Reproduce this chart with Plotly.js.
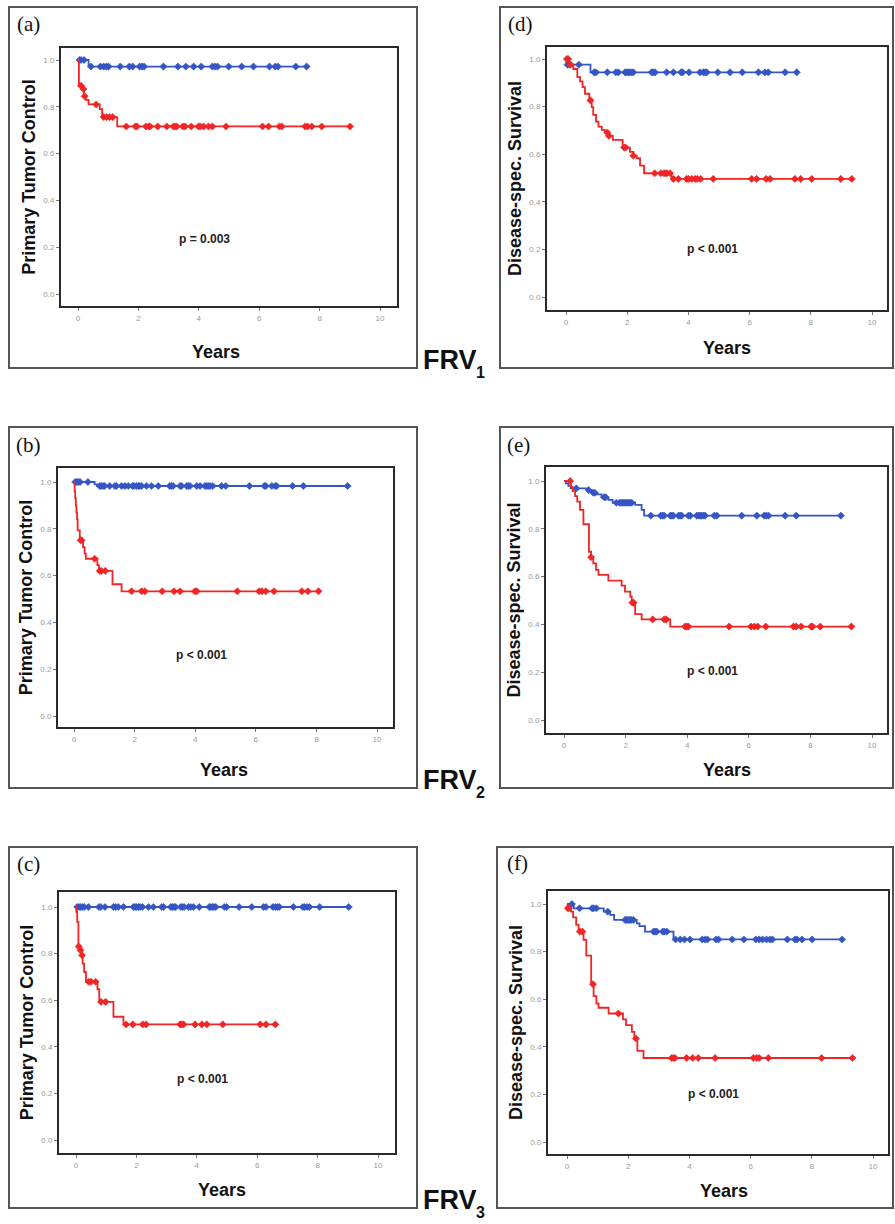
<!DOCTYPE html>
<html>
<head>
<meta charset="utf-8">
<script src="https://cdn.plot.ly/plotly-3.0.1.min.js"></script>
<style>html,body{margin:0;padding:0;background:#fff;}#chart{width:895px;height:1224px;}</style>
</head>
<body>
<div id="chart"></div>
<script>
// ---------- data (years, survival proportion) ----------
const xTickVals = [0, 2, 4, 6, 8, 10];
const xTickText = ["0", "2", "4", "6", "8", "10"];
const yTickVals = [0, 0.2, 0.4, 0.6, 0.8, 1.0];
const yTickText = ["0.0", "0.2", "0.4", "0.6", "0.8", "1.0"];
const panelLetters = ["(a)", "(b)", "(c)", "(d)", "(e)", "(f)"];
const yTitles = ["Primary Tumor Control", "Primary Tumor Control", "Primary Tumor Control",
                 "Disease-spec. Survival", "Disease-spec. Survival", "Disease-spec. Survival"];
const xTitle = "Years";
const pValues = ["p = 0.003", "p < 0.001", "p < 0.001", "p < 0.001", "p < 0.001", "p < 0.001"];
const frvMain = "FRV";
const frvSubs = ["1", "2", "3"];

// (a) Primary tumor control, FRV1
const aBlueEventT = [0.35];
const aBlueEventS = [0.972];
const aBlueCens = [0.05,0.1,0.2,0.43,0.74,0.85,0.94,1.01,1.40,1.70,1.81,2.04,2.12,2.19,2.83,3.31,3.57,3.83,4.08,4.45,4.54,4.62,4.99,5.42,5.81,6.34,6.53,6.62,7.21,7.57];
const aRedEventT = [0.03,0.12,0.2,0.25,0.35,0.72,0.8,1.3];
const aRedEventS = [0.89,0.876,0.845,0.83,0.81,0.79,0.756,0.716];
const aRedCens = [0.1,0.18,0.22,0.6,0.85,0.95,1.05,1.15,1.60,1.90,1.95,2.25,2.34,2.39,2.64,2.94,3.16,3.22,3.27,3.47,3.55,3.75,3.99,4.05,4.16,4.32,4.45,4.90,6.11,6.31,6.67,6.75,7.52,7.60,7.74,8.07,9.01];

// (b) Primary tumor control, FRV2
const bBlueEventT = [0.68,0.76];
const bBlueEventS = [0.99,0.983];
const bBlueCens = [0.04,0.09,0.14,0.2,0.46,0.85,0.90,0.96,1.01,1.18,1.35,1.40,1.57,1.68,1.79,1.93,1.98,2.06,2.12,2.17,2.23,2.39,2.56,2.78,3.16,3.22,3.27,3.50,3.55,3.72,3.77,3.83,4.05,4.16,4.32,4.38,4.43,4.49,4.58,4.87,5.01,5.79,6.28,6.33,6.53,6.64,6.69,7.21,7.57,9.03];
const bRedEventT = [0.02,0.04,0.06,0.08,0.10,0.12,0.19,0.30,0.35,0.39,0.77,0.82,1.27,1.57];
const bRedEventS = [0.96,0.93,0.90,0.87,0.84,0.793,0.751,0.722,0.694,0.672,0.645,0.62,0.563,0.533];
const bRedCens = [0.22,0.25,0.68,0.85,0.90,1.03,1.90,2.23,2.34,2.91,3.30,3.50,3.99,4.05,5.39,6.11,6.20,6.33,6.60,7.52,7.72,8.07];

// (c) Primary tumor control, FRV3
const cBlueEventT = [];
const cBlueEventS = [];
const cBlueCens = [0.04,0.10,0.15,0.21,0.27,0.41,0.76,0.82,0.96,1.24,1.31,1.40,1.57,1.90,1.96,2.01,2.07,2.12,2.20,2.40,2.56,2.84,2.90,3.14,3.19,3.25,3.30,3.47,3.52,3.58,3.72,3.80,3.89,4.08,4.41,4.46,4.52,4.57,4.63,4.91,4.99,5.40,5.82,6.21,6.29,6.52,6.60,6.67,6.73,7.20,7.51,7.57,7.65,7.73,8.07,9.03];
const cRedEventT = [0.01,0.04,0.08,0.13,0.19,0.22,0.27,0.33,0.71,0.77,1.24,1.57];
const cRedEventS = [0.979,0.936,0.83,0.814,0.793,0.757,0.721,0.679,0.647,0.593,0.529,0.496];
const cRedCens = [0.09,0.15,0.2,0.42,0.5,0.65,0.83,0.98,1.66,1.88,2.21,2.32,3.45,3.50,3.56,3.94,4.17,4.33,4.86,6.10,6.29,6.60];

// (d) Disease-specific survival, FRV1
const dBlueEventT = [0.01,0.8];
const dBlueEventS = [0.976,0.944];
const dBlueCens = [0.05,0.12,0.42,0.92,0.98,1.35,1.63,1.71,1.93,1.98,2.04,2.09,2.15,2.20,2.80,2.85,2.91,3.29,3.51,3.76,3.81,4.02,4.38,4.49,4.55,4.60,4.96,5.36,5.76,6.29,6.50,6.61,7.16,7.54];
const dRedEventT = [0.1,0.24,0.37,0.46,0.54,0.62,0.76,0.84,0.89,0.98,1.06,1.17,1.27,1.38,1.53,1.85,2.09,2.2,2.31,2.42,2.55,3.45];
const dRedEventS = [0.976,0.958,0.924,0.906,0.882,0.854,0.826,0.798,0.765,0.737,0.716,0.702,0.691,0.677,0.660,0.628,0.61,0.594,0.583,0.552,0.520,0.496];
const dRedCens = [0.03,0.07,0.15,0.8,1.35,1.4,1.9,1.95,2.2,2.9,3.1,3.2,3.25,3.3,3.4,3.51,3.67,3.94,4.00,4.11,4.22,4.29,4.40,4.81,6.07,6.23,6.54,6.67,7.48,7.67,8.03,8.98,9.34];

// (e) Disease-specific survival, FRV2
const eBlueEventT = [0.06,0.14,0.22,0.79,0.9,1.06,1.22,1.44,1.58,2.31,2.52,2.6];
const eBlueEventS = [0.99,0.98,0.969,0.962,0.951,0.944,0.932,0.921,0.909,0.9,0.879,0.855];
const eBlueCens = [0.4,0.8,0.95,1.0,1.3,1.35,1.7,1.8,1.85,1.9,1.95,2.0,2.05,2.1,2.15,2.2,2.82,3.14,3.20,3.25,3.45,3.50,3.55,3.72,3.77,3.82,4.04,4.10,4.31,4.37,4.42,4.47,4.53,4.58,4.88,4.96,5.77,6.26,6.50,6.57,6.64,7.18,7.54,8.99];
const eRedEventT = [0.22,0.28,0.36,0.43,0.52,0.63,0.81,0.88,0.95,1.04,1.12,1.44,1.87,1.98,2.15,2.2,2.31,2.52,3.45];
const eRedEventS = [0.976,0.958,0.937,0.914,0.879,0.819,0.704,0.681,0.655,0.628,0.607,0.583,0.562,0.537,0.516,0.491,0.443,0.421,0.391];
const eRedCens = [0.2,0.88,2.22,2.26,2.88,3.25,3.32,3.93,3.99,4.04,5.36,6.07,6.18,6.29,6.55,7.45,7.54,7.70,8.02,8.07,8.32,9.33];

// (f) Disease-specific survival, FRV3
const fBlueEventT = [0.22,1.2,1.41,1.54,2.28,2.37,2.55,3.48];
const fBlueEventS = [0.982,0.968,0.954,0.933,0.919,0.907,0.884,0.851];
const fBlueCens = [0.16,0.41,0.82,0.87,0.96,1.33,1.9,1.95,2.0,2.05,2.1,2.17,2.83,2.88,2.93,3.13,3.18,3.26,3.55,3.70,3.84,4.02,4.42,4.51,4.59,4.87,4.95,5.40,5.78,6.17,6.28,6.39,6.52,6.63,6.71,7.20,7.45,7.52,7.68,8.01,8.99];
const fRedEventT = [0.02,0.13,0.2,0.3,0.38,0.54,0.63,0.79,0.87,0.96,1.03,1.36,1.83,1.93,2.12,2.2,2.3,2.5];
const fRedEventS = [0.982,0.968,0.944,0.912,0.884,0.849,0.783,0.663,0.613,0.582,0.564,0.540,0.515,0.491,0.463,0.435,0.383,0.353];
const fRedCens = [0.03,0.06,0.42,0.5,0.85,1.68,2.25,3.42,3.48,3.53,3.91,4.11,4.29,4.84,6.09,6.20,6.28,6.58,8.32,9.33];

// ---------- layout geometry (pixels) ----------
const W = 895, H = 1224;
const BLUE = "#3456c4", RED = "#f02525";
const geo = [
  {area:[61,48,397,306],  x0:78,  x10:380, y1:60,  y0:294,  frame:[9,7,417,368],    letter:[28,24],  years:[216,352],  p:[204,239]},
  {area:[58,468,393,727], x0:74,  x10:377, y1:482, y0:716,  frame:[9,427,417,788],  letter:[28,445], years:[224,770],  p:[201,655]},
  {area:[59,892,395,1153],x0:76,  x10:378, y1:907, y0:1140, frame:[9,847,417,1208], letter:[28,864], years:[222,1190], p:[202,1079]},
  {area:[547,47,887,310], x0:566, x10:872, y1:59,  y0:297,  frame:[500,7,893,368],  letter:[520,24], years:[727,348],  p:[712,249]},
  {area:[546,467,887,733],x0:564, x10:872, y1:481, y0:720,  frame:[500,427,893,788],letter:[518,445],years:[727,770],  p:[712,671]},
  {area:[548,891,888,1154],x0:567,x10:873, y1:904, y0:1142, frame:[497,847,893,1208],letter:[517,863],years:[724,1191], p:[713,1094]}
];
const series = [
  [aBlueEventT,aBlueEventS,aBlueCens,aRedEventT,aRedEventS,aRedCens],
  [bBlueEventT,bBlueEventS,bBlueCens,bRedEventT,bRedEventS,bRedCens],
  [cBlueEventT,cBlueEventS,cBlueCens,cRedEventT,cRedEventS,cRedCens],
  [dBlueEventT,dBlueEventS,dBlueCens,dRedEventT,dRedEventS,dRedCens],
  [eBlueEventT,eBlueEventS,eBlueCens,eRedEventT,eRedEventS,eRedCens],
  [fBlueEventT,fBlueEventS,fBlueCens,fRedEventT,fRedEventS,fRedCens]
];

function survAt(t, evT, evS) {
  let s = 1;
  for (let i = 0; i < evT.length; i++) if (evT[i] <= t) s = evS[i];
  return s;
}
function kmTraces(evT, evS, cens, color, xa, ya) {
  const end = Math.max(...cens, ...(evT.length ? evT : [0]));
  const lx = [0].concat(evT, [end]);
  const ly = [1].concat(evS, [evS.length ? evS[evS.length-1] : 1]);
  const line = {x: lx, y: ly, xaxis: xa, yaxis: ya, type: "scatter", mode: "lines",
    line: {color: color, width: 1.8, shape: "hv"}, hoverinfo: "skip", showlegend: false};
  const marks = {x: cens, y: cens.map(t => survAt(t, evT, evS)), xaxis: xa, yaxis: ya,
    type: "scatter", mode: "markers", hoverinfo: "skip", showlegend: false,
    marker: {symbol: "diamond", size: 5.5, color: color, line: {width: 0.6, color: color}}};
  return [line, marks];
}

const traces = [];
const layout = {width: W, height: H, margin: {l:0, r:0, t:0, b:0}, paper_bgcolor: "#fff", plot_bgcolor: "#fff",
  showlegend: false, shapes: [], annotations: []};
const baseFont = "Liberation Sans, Arial, sans-serif";

geo.forEach((g, i) => {
  const n = i + 1;
  const xa = n === 1 ? "x" : "x" + n, ya = n === 1 ? "y" : "y" + n;
  const xk = n === 1 ? "xaxis" : "xaxis" + n, yk = n === 1 ? "yaxis" : "yaxis" + n;
  const [l, t, r, b] = g.area;
  const pxYr = (g.x10 - g.x0) / 10, pxU = g.y0 - g.y1;
  const axisCommon = {showline: true, mirror: true, linecolor: "#2a2a2a", linewidth: 2, showgrid: false,
    zeroline: false, ticks: "outside", ticklen: 3, tickwidth: 1, tickcolor: "#777", fixedrange: true,
    tickfont: {family: baseFont, size: 8, color: "#9a9a9a"}};
  layout[xk] = Object.assign({}, axisCommon, {domain: [l / W, r / W], range: [(l - g.x0) / pxYr, (r - g.x0) / pxYr],
    tickmode: "array", tickvals: xTickVals, ticktext: xTickText, anchor: ya});
  layout[yk] = Object.assign({}, axisCommon, {domain: [1 - b / H, 1 - t / H], range: [(g.y0 - b) / pxU, (g.y0 - t) / pxU],
    tickmode: "array", tickvals: yTickVals, ticktext: yTickText, anchor: xa,
    title: {text: "<b>" + yTitles[i] + "</b>", standoff: 3, font: {family: baseFont, size: 18, color: "#111"}}});
  const s = series[i];
  traces.push(...kmTraces(s[0], s[1], s[2], BLUE, xa, ya));
  traces.push(...kmTraces(s[3], s[4], s[5], RED, xa, ya));
  const f = g.frame;
  layout.shapes.push({type: "rect", xref: "paper", yref: "paper", x0: f[0] / W, x1: f[2] / W, y0: 1 - f[3] / H, y1: 1 - f[1] / H,
    line: {color: "#555", width: 2}, fillcolor: "rgba(0,0,0,0)", layer: "below"});
  layout.annotations.push(
    {text: panelLetters[i], xref: "paper", yref: "paper", x: g.letter[0] / W, y: 1 - g.letter[1] / H, showarrow: false,
     xanchor: "center", yanchor: "middle", font: {family: "Liberation Serif, Times New Roman, serif", size: 21, color: "#111"}},
    {text: "<b>" + xTitle + "</b>", xref: "paper", yref: "paper", x: g.years[0] / W, y: 1 - g.years[1] / H, showarrow: false,
     xanchor: "center", yanchor: "middle", font: {family: baseFont, size: 18, color: "#111"}},
    {text: "<b>" + pValues[i] + "</b>", xref: "paper", yref: "paper", x: g.p[0] / W, y: 1 - g.p[1] / H, showarrow: false,
     xanchor: "center", yanchor: "middle", font: {family: baseFont, size: 12, color: "#222"}}
  );
});
const frvRowY = [360, 780, 1200];
frvSubs.forEach((sub, i) => {
  layout.annotations.push(
    {text: "<b>" + frvMain + "</b>", xref: "paper", yref: "paper", x: 421 / W, y: 1 - frvRowY[i] / H,
     showarrow: false, xanchor: "left", yanchor: "middle", font: {family: baseFont, size: 27, color: "#111"}},
    {text: "<b>" + sub + "</b>", xref: "paper", yref: "paper", x: 474 / W, y: 1 - (frvRowY[i] + 12) / H,
     showarrow: false, xanchor: "left", yanchor: "middle", font: {family: baseFont, size: 16, color: "#111"}}
  );
});

Plotly.newPlot("chart", traces, layout, {staticPlot: true, displayModeBar: false});
</script>
</body>
</html>
